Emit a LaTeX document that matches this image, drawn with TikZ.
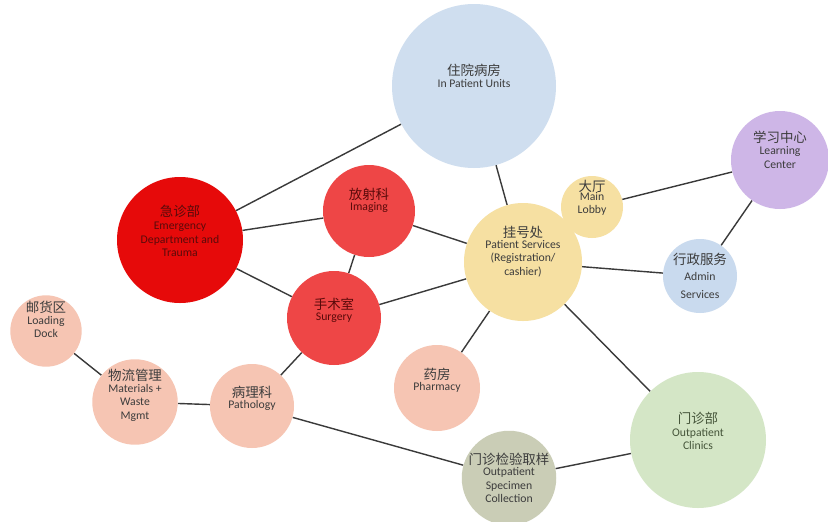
\documentclass[tikz,border=0pt]{standalone}
\usepackage{fontspec}
\setmainfont{Carlito}
\newfontfamily\zhfont{Noto Sans CJK SC}
\usetikzlibrary{positioning,backgrounds}
\definecolor{ink}{HTML}{3C3C3C}
\definecolor{inkred}{HTML}{5A0A0A}
\definecolor{inkgreen}{HTML}{45553A}
\definecolor{wire}{HTML}{3A3A3A}
\definecolor{wardblue}{HTML}{CFDEEF}
\definecolor{hotred}{HTML}{E60A0A}
\definecolor{warmred}{HTML}{EE4646}
\definecolor{sand}{HTML}{F6E0A2}
\definecolor{lilac}{HTML}{CEB6E7}
\definecolor{skyblue}{HTML}{C9DAEE}
\definecolor{peach}{HTML}{F6C5B3}
\definecolor{sage}{HTML}{CACDB6}
\definecolor{mint}{HTML}{D4E6C6}
\newcommand{\cn}[1]{{\zhfont\fontsize{11.5pt}{13pt}\selectfont #1}}

\begin{document}
\begin{tikzpicture}[
      x=0.03cm, y=-0.03cm,
      unit/.style={circle, inner sep=0pt, align=center, text=ink,
                   font=\fontsize{10pt}{11.5pt}\selectfont},
      link/.style={draw=wire, line width=1.2pt},
    ]
      \useasboundingbox (0,0) rectangle (828,521);

      % wards and departments
      \node[unit, fill=wardblue, minimum size=164*0.03cm] (inpat) at (474,86) {\cn{住院病房}\\[-2pt]In Patient Units\\[6pt]};
      \node[unit, fill=hotred, text=inkred, minimum size=126*0.03cm] (emerg) at (180,240) {\cn{急诊部}\\Emergency\\Department and\\Trauma\\[4pt]};
      \node[unit, fill=warmred, text=inkred, minimum size=92*0.03cm] (imaging) at (369,211) {\cn{放射科}\\[-2pt]Imaging\\[8pt]};
      \node[unit, fill=warmred, text=inkred, minimum size=94*0.03cm] (surgery) at (334,318) {\cn{手术室}\\[-2pt]Surgery\\[4pt]};
      \node[unit, fill=sand, minimum size=62*0.03cm] (lobby) at (592,207) {\cn{大厅}\\[-4pt]Main\\Lobby\\[6pt]};
      \node[unit, fill=sand, minimum size=118*0.03cm] (regist) at (523,262) {\cn{挂号处}\\[-2pt]Patient Services\\(Registration/\\cashier)\\[8pt]};
      \node[unit, fill=lilac, minimum size=98*0.03cm] (learn) at (780,160) {\cn{学习中心}\\[-1pt]Learning\\Center\\[6pt]};
      \node[unit, fill=skyblue, minimum size=74*0.03cm] (admin) at (700,276) {\cn{行政服务}\\[2pt]Admin\\[4pt]Services};
      \node[unit, fill=peach, minimum size=62*0.03cm] (dock) at (46,331) {\cn{邮货区}\\[-2pt]Loading\\Dock\\[8pt]};
      \node[unit, fill=peach, minimum size=80*0.03cm] (matl) at (135,402) {\cn{物流管理}\\[-1pt]Materials +\\Waste\\Mgmt\\[2pt]};
      \node[unit, fill=peach, minimum size=84*0.03cm] (patho) at (252,406) {\cn{病理科}\\[-2pt]Pathology\\[4pt]};
      \node[unit, fill=peach, minimum size=86*0.03cm] (pharm) at (437,388) {\cn{药房}\\[-2pt]Pharmacy\\[4pt]};
      \node[unit, fill=sage, minimum size=82*0.03cm] (specim) at (509,478) {\cn{门诊检验取样}\\[-2pt]Outpatient\\Specimen\\Collection};
      \node[unit, fill=mint, text=inkgreen, minimum size=136*0.03cm] (clinic) at (698,440) {\cn{门诊部}\\[-1pt]Outpatient\\Clinics\\[4pt]};

      \begin{scope}[on background layer]
        \fill[white] (0,0) rectangle (828,521);
        \draw[link] (emerg) -- (inpat);
        \draw[link] (emerg) -- (imaging);
        \draw[link] (emerg) -- (surgery);
        \draw[link] (imaging) -- (surgery);
        \draw[link] (imaging) -- (regist);
        \draw[link] (surgery) -- (regist);
        \draw[link] (surgery) -- (patho);
        \draw[link] (inpat) -- (regist);
        \draw[link] (lobby) -- (learn);
        \draw[link] (learn) -- (admin);
        \draw[link] (regist) -- (admin);
        \draw[link] (regist) -- (pharm);
        \draw[link] (regist) -- (clinic);
        \draw[link] (dock) -- (matl);
        \draw[link] (matl) -- (patho);
        \draw[link] (patho) -- (specim);
        \draw[link] (specim) -- (clinic);
      \end{scope}
    \end{tikzpicture}
\end{document}
